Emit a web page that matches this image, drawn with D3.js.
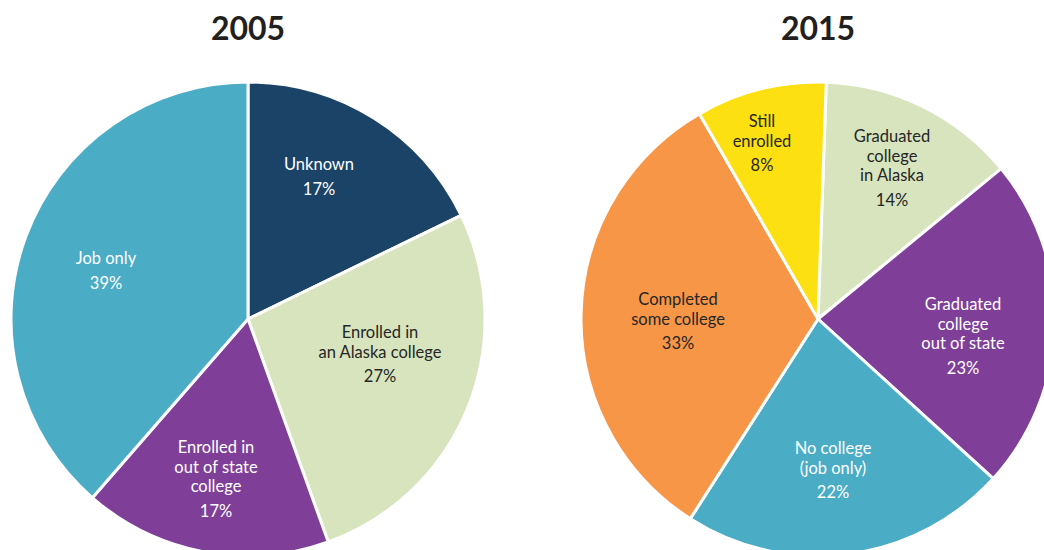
<!DOCTYPE html>
<html><head><meta charset="utf-8">
<script src="https://cdn.jsdelivr.net/npm/d3@7"></script>
<style>html,body{margin:0;padding:0;background:#fff;}svg{display:block;}</style>
</head><body>
<svg id="c" width="1044" height="550"></svg>
<script>
// ---- data ----
const titles = ["2005", "2015"];
const cats2005 = [["Unknown"], ["Enrolled in", "an Alaska college"], ["Enrolled in", "out of state", "college"], ["Job only"]];
const vals2005 = [17.8, 26.7, 16.9, 38.6];          // slice sizes
const pct2005 = ["17%", "27%", "17%", "39%"];       // printed labels
const cats2015 = [["Graduated", "college", "in Alaska"], ["Graduated", "college", "out of state"], ["No college", "(job only)"], ["Completed", "some college"], ["Still", "enrolled"]];
const vals2015 = [13.5, 22.7, 22.3, 32.6, 8.9];
const pct2015 = ["14%", "23%", "22%", "33%", "8%"];

// ---- styles / layout ----
const colors2005 = ["#1b4368", "#d7e4bd", "#7f3f98", "#4bacc6"];
const colors2015 = ["#d7e4bd", "#7f3f98", "#4bacc6", "#f79646", "#fde012"];
const textCol2005 = ["#fff", "#262626", "#fff", "#fff"];
const textCol2015 = ["#262626", "#fff", "#fff", "#262626", "#262626"];
// label anchor offsets relative to the pie centre (first text line baseline)
const lab2005 = [[71, -149], [132, 19], [-32, 134], [-142, -55]];
const lab2015 = [[74, -177], [145, -9], [15, 135], [-140, -14], [-56, -192]];
const startDeg2015 = 2;

const svg = d3.select("#c");
const font = "Lato, 'Open Sans', sans-serif";
const R = 237;
const LH = 19.5, PG = 24.5;

function drawPie(cx, cy, title, cats, vals, pcts, cols, tcols, labs, startDeg) {
  const g = svg.append("g").attr("transform", `translate(${cx},${cy})`);
  const a0 = startDeg * Math.PI / 180;
  const pie = d3.pie().sort(null).value(d => d).startAngle(a0).endAngle(a0 + 2 * Math.PI);
  const arc = d3.arc().innerRadius(0).outerRadius(R);
  g.selectAll("path").data(pie(vals)).join("path")
    .attr("d", arc).attr("fill", (d, i) => cols[i])
    .attr("stroke", "#fff").attr("stroke-width", 3).attr("stroke-linejoin", "round");
  svg.append("text").attr("x", cx).attr("y", 40).attr("text-anchor", "middle")
    .attr("font-family", font).attr("font-weight", 700).attr("font-size", 32)
    .attr("fill", "#231f20").text(title);
  cats.forEach((lines, i) => {
    const t = g.append("text").attr("text-anchor", "middle")
      .attr("font-family", font).attr("font-size", 16.5).attr("fill", tcols[i]);
    const [dx, dy] = labs[i];
    lines.forEach((ln, j) => {
      t.append("tspan").attr("x", dx).attr("y", dy + j * LH).text(ln);
    });
    t.append("tspan").attr("x", dx).attr("y", dy + (lines.length - 1) * LH + PG).text(pcts[i]);
  });
}

drawPie(248, 319, titles[0], cats2005, vals2005, pct2005, colors2005, textCol2005, lab2005, 0);
drawPie(818, 319, titles[1], cats2015, vals2015, pct2015, colors2015, textCol2015, lab2015, startDeg2015);
</script>
</body></html>
